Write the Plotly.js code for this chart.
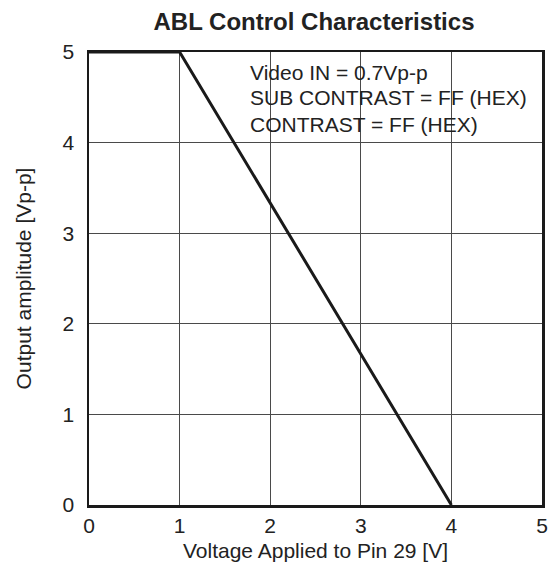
<!DOCTYPE html>
<html><head><meta charset="utf-8">
<script src="https://cdn.plot.ly/plotly-3.0.1.min.js"></script>
<style>html,body{margin:0;padding:0;background:#fff}</style>
</head><body>
<div id="chart" style="width:558px;height:567px"></div>
<script>
const voltage = [0, 1, 4];
const amplitude = [5, 5, 0];
const noteLines = ["Video IN = 0.7Vp-p", "SUB CONTRAST = FF (HEX)", "CONTRAST = FF (HEX)"];
const tickVals = [0, 1, 2, 3, 4, 5];

const fam = "Liberation Sans, Arial, Helvetica, sans-serif";
const txt = "#222";
const data = [{
  x: voltage, y: amplitude, type: "scatter", mode: "lines",
  line: {color: "#1a1a1a", width: 3}, hoverinfo: "skip", cliponaxis: false
}];
const layout = {
  width: 558, height: 567,
  margin: {l: 89, r: 16, t: 52, b: 62},
  paper_bgcolor: "#fff", plot_bgcolor: "#fff",
  font: {family: fam, size: 21, color: txt},
  showlegend: false,
  title: {text: "<b>ABL Control Characteristics</b>", x: 314 / 558, xanchor: "center", y: 1 - 22 / 567, yanchor: "middle",
          font: {family: fam, size: 24, color: txt}},
  xaxis: {range: [0, 5], tickvals: tickVals, ticks: "", showgrid: true, gridcolor: "#4a4a4a", gridwidth: 1,
          zeroline: false, showline: true, mirror: true, linecolor: "#1a1a1a", linewidth: 2.5,
          tickfont: {size: 21}, ticklabelstandoff: 0,
          title: {text: "Voltage Applied to Pin 29 [V]", font: {size: 21}, standoff: 8}},
  yaxis: {range: [0, 5], tickvals: tickVals, ticks: "", showgrid: true, gridcolor: "#4a4a4a", gridwidth: 1,
          zeroline: false, showline: true, mirror: true, linecolor: "#1a1a1a", linewidth: 2.5,
          tickfont: {size: 21}, ticklabelstandoff: 8,
          title: {text: "Output amplitude [Vp-p]", font: {size: 21}, standoff: 26}},
  annotations: noteLines.map((t, i) => ({
    text: t, xref: "paper", yref: "paper", x: (248 - 89) / 453, y: 1 - (20 + i * 26) / 453,
    xanchor: "left", yanchor: "middle", showarrow: false, align: "left",
    font: {family: fam, size: 21, color: txt}
  }))
};
Plotly.newPlot("chart", data, layout, {staticPlot: true, displayModeBar: false});
</script>
</body></html>
